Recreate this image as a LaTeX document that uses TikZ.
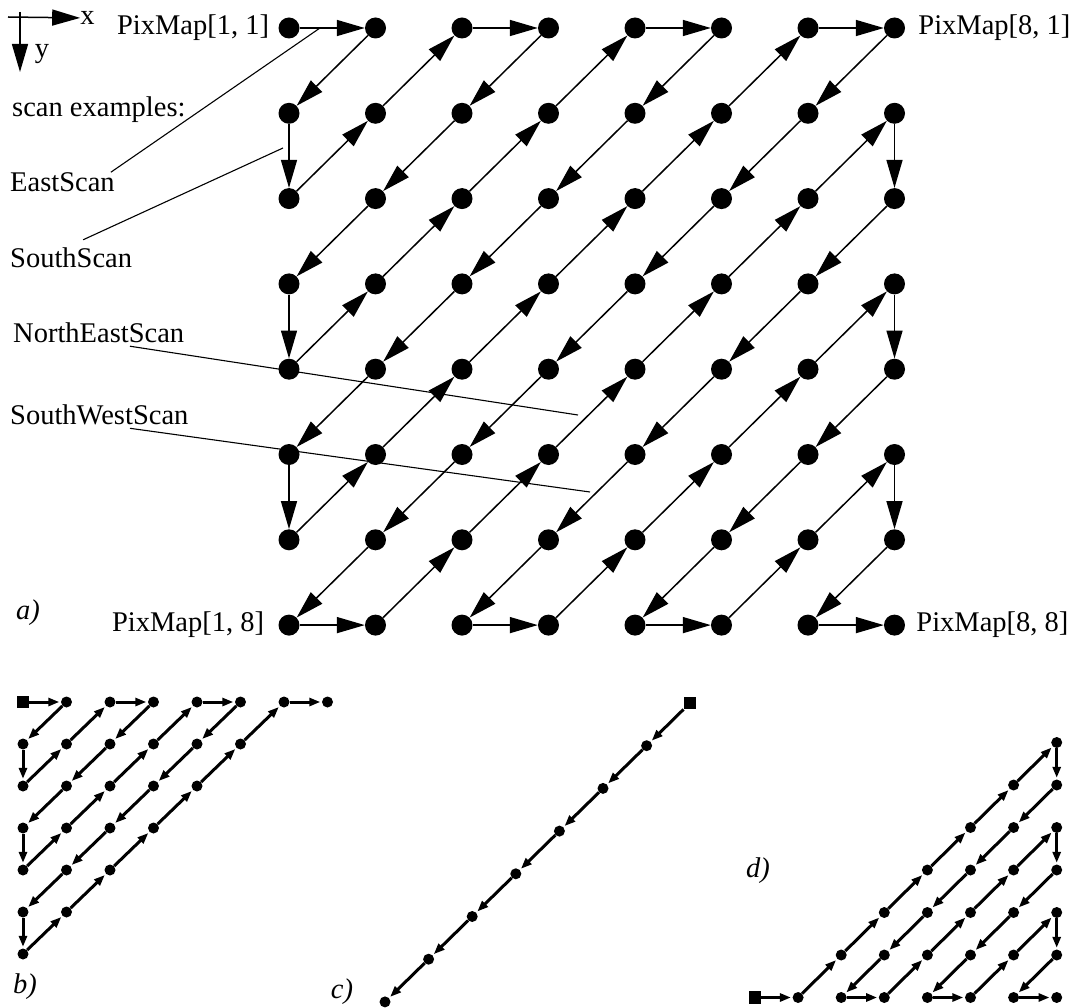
\documentclass[tikz,border=0pt]{standalone}
\usepackage{fontspec}
\setmainfont{Liberation Serif}
\usetikzlibrary{arrows.meta,positioning}
\tikzset{
  dot/.style={circle,fill,inner sep=0pt,minimum size=21pt},
  sdot/.style={circle,fill,inner sep=0pt,minimum size=11pt},
  sq/.style={rectangle,fill,inner sep=0pt,minimum size=12.5pt},
  scan/.style={-{Triangle[length=28pt,width=16pt]},line width=1.5pt},
  sscan/.style={-{Triangle[length=11pt,width=8pt]},line width=3pt,shorten >=1.5pt},
  lead/.style={line width=1.1pt},
  lbl/.style={inner sep=0pt,font=\fontsize{28.5pt}{30pt}\selectfont},
  panel/.style={inner sep=0pt,font=\fontsize{28.5pt}{30pt}\selectfont\itshape},
}

\begin{document}
\begin{tikzpicture}[x=1pt,y=-1pt]
  \useasboundingbox (0,0) rectangle (1081,1008);
  % a) full scan
  \foreach \c in {1,...,8}
    \foreach \r in {1,...,8}
      \node[dot] (a\c\r) at ({289+86.5*(\c-1)},{28+85.3*(\r-1)}) {};
  \foreach \c/\r [remember=\c as \pc (initially 1),remember=\r as \pr (initially 1)] in
    {2/1,1/2,1/3,2/2,3/1,4/1,3/2,2/3,1/4,1/5,2/4,3/3,4/2,5/1,6/1,5/2,4/3,3/4,2/5,1/6,
     1/7,2/6,3/5,4/4,5/3,6/2,7/1,8/1,7/2,6/3,5/4,4/5,3/6,2/7,1/8,2/8,3/7,4/6,5/5,6/4,
     7/3,8/2,8/3,7/4,6/5,5/6,4/7,3/8,4/8,5/7,6/6,7/5,8/4,8/5,7/6,6/7,5/8,6/8,7/7,8/6,
     8/7,7/8,8/8}
    \draw[scan] (a\pc\pr) -- (a\c\r);
  \node[lbl,left=9pt of a11] (p11) {PixMap[1, 1]};
  \node[lbl,right=13pt of a81] (p81) {PixMap[8, 1]};
  \node[lbl,left=14pt of a18] (p18) {PixMap[1, 8]};
  \node[lbl,right=11pt of a88] (p88) {PixMap[8, 8]};

  \coordinate (o) at (20,17);
  \coordinate (ytip) at (20,72);
  \node[lbl] (xl) at (87.5,18) {x};
  \node[lbl] (yl) at (42,54) {y};
  \draw[scan] ([xshift=-12pt]o) -- (xl);
  \draw[scan] ([yshift=5pt]o) -- (ytip);

  \node[lbl,anchor=west] (ex) at (12,110) {scan examples:};
  \node[lbl,anchor=west] (east) at (10,182) {EastScan};
  \node[lbl,anchor=west] (south) at (10,258) {SouthScan};
  \node[lbl,anchor=west] (ne) at (13,333) {NorthEastScan};
  \node[lbl,anchor=west] (sw) at (10,415) {SouthWestScan};
  \coordinate (eastend) at (320,28);
  \coordinate (southend) at (283,148);
  \coordinate (neend) at (578,415);
  \coordinate (swend) at (590,492);
  \draw[lead] ([xshift=-4pt]east.north east) -- (eastend);
  \draw[lead] ([xshift=12pt,yshift=8pt]south.north) -- (southend);
  \draw[lead] ([xshift=117pt,yshift=-3pt]ne.south west) -- (neend);
  \draw[lead] ([xshift=120pt,yshift=-3pt]sw.south west) -- (swend);
  \node[panel] (la) at (28,613) {a)};

  % b) first half
  \node[sq] (b11) at (23,702) {};
  \foreach \c/\r [remember=\c as \pc (initially 1),remember=\r as \pr (initially 1)] in
    {2/1,1/2,1/3,2/2,3/1,4/1,3/2,2/3,1/4,1/5,2/4,3/3,4/2,5/1,6/1,5/2,4/3,3/4,2/5,1/6,
     1/7,2/6,3/5,4/4,5/3,6/2,7/1,8/1}
    {
      \node[sdot] (b\c\r) at ({23+43.5*(\c-1)},{702+42*(\r-1)}) {};
      \draw[sscan] (b\pc\pr) -- (b\c\r);
    }
  \node[panel] (lb) at (25,987) {b)};

  % c) one diagonal
  \node[sq] (c81) at (690,703) {};
  \foreach \c/\r [remember=\c as \pc (initially 8),remember=\r as \pr (initially 1)] in
    {7/2,6/3,5/4,4/5,3/6,2/7,1/8}
    {
      \node[sdot] (c\c\r) at ({385+43.6*(\c-1)},{703+42.7*(\r-1)}) {};
      \draw[sscan] (c\pc\pr) -- (c\c\r);
    }
  \node[panel] (lc) at (342,992) {c)};

  % d) second half
  \node[sq] (d18) at (755,997.5) {};
  \foreach \c/\r [remember=\c as \pc (initially 1),remember=\r as \pr (initially 8)] in
    {2/8,3/7,4/6,5/5,6/4,7/3,8/2,8/3,7/4,6/5,5/6,4/7,3/8,4/8,5/7,6/6,7/5,8/4,8/5,7/6,
     6/7,5/8,6/8,7/7,8/6,8/7,7/8,8/8}
    {
      \node[sdot] (d\c\r) at ({755+43.1*(\c-1)},{700+42.5*(\r-1)}) {};
      \draw[sscan] (d\pc\pr) -- (d\c\r);
    }
  \node[panel] (ld) at (758,871) {d)};
\end{tikzpicture}
\end{document}
